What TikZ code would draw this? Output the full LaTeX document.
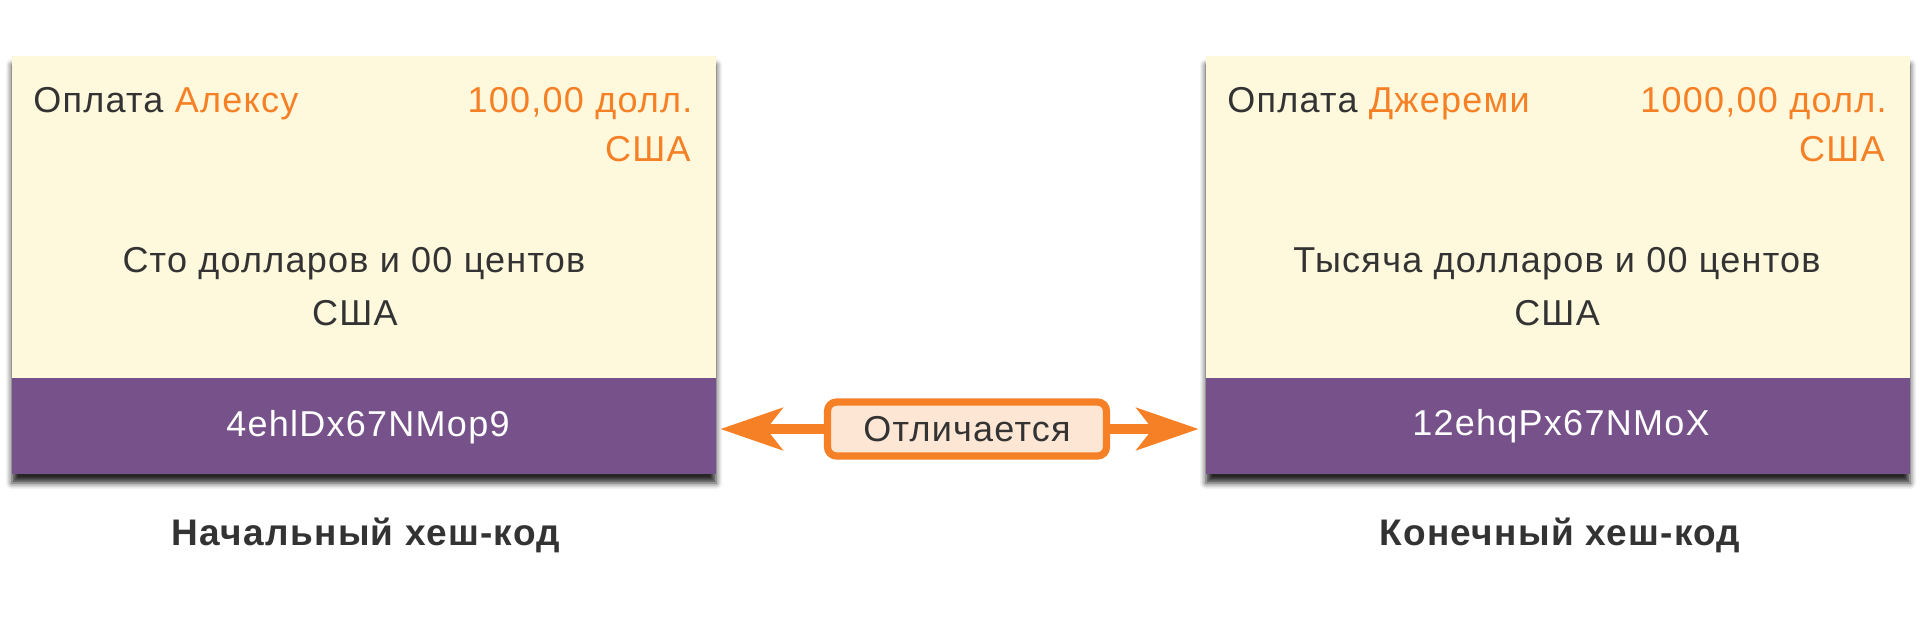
\documentclass[tikz,border=0pt]{standalone}
\usepackage{fontspec}
\setmainfont{Liberation Sans}[LetterSpace=3.5]
\usetikzlibrary{arrows.meta,shadows.blur}
\definecolor{cream}{HTML}{FEF8DC}
\definecolor{hashpurple}{HTML}{76518A}
\definecolor{accent}{HTML}{F58025}
\definecolor{peach}{HTML}{FDE6D4}
\definecolor{ink}{HTML}{333333}
\begin{document}
\begin{tikzpicture}[x=0.5pt,y=-0.5pt,
  card/.style={fill=cream, draw=none, minimum width=352pt, minimum height=209pt, inner sep=0pt,
    blur shadow={shadow xshift=0pt, shadow yshift=-4.5pt, shadow blur radius=3pt, shadow opacity=85}},
  band/.style={fill=hashpurple, draw=none, minimum width=352pt, minimum height=48pt, inner sep=0pt},
  txt/.style={font=\fontsize{18pt}{22pt}\selectfont, text=ink, inner sep=0pt},
  otxt/.style={txt, text=accent},
  htxt/.style={txt, text=white},
  captxt/.style={font=\fontsize{18.5pt}{22pt}\selectfont\bfseries, text=ink, inner sep=0pt},
  diffbox/.style={draw=accent, line width=3.6pt, fill=peach, rounded corners=4.5pt,
    minimum width=139.5pt, minimum height=27pt, inner sep=0pt, font=\fontsize{18pt}{22pt}\selectfont, text=ink},
  arr/.style={draw=accent, line width=5pt, -{Stealth[length=31pt, width=21pt, inset=8pt]}}
]
\useasboundingbox (0,0) rectangle (1920,629);

% left card
\node[card] (A) at (364,265) {};
\node[band] (Ah) at (364,426) {};
\node[htxt, anchor=base] (Ahash) at (368,436) {4ehlDx67NMop9};
\node[txt, anchor=base west] (Apay) at (33,112) {Оплата \textcolor{accent}{Алексу}};
\node[otxt, anchor=base east] (Aamt) at (693,112) {100,00 долл.};
\node[otxt, anchor=base east] (Ausa) at (691,161) {США};
\node[txt, anchor=base] (Awords) at (354,272) {Сто долларов и 00 центов};
\node[txt, anchor=base] (Awusa) at (355,325) {США};
\node[captxt, anchor=base] (Acap) at (366,545) {Начальный хеш-код};

% right card
\node[card] (B) at (1558,265) {};
\node[band] (Bh) at (1558,426) {};
\node[htxt, anchor=base] (Bhash) at (1561,435) {12ehqPx67NMoX};
\node[txt, anchor=base west] (Bpay) at (1227,112) {Оплата \textcolor{accent}{Джереми}};
\node[otxt, anchor=base east] (Bamt) at (1887,112) {1000,00 долл.};
\node[otxt, anchor=base east] (Busa) at (1885,161) {США};
\node[txt, anchor=base] (Bwords) at (1557,272) {Тысяча долларов и 00 центов};
\node[txt, anchor=base] (Bwusa) at (1557,325) {США};
\node[captxt, anchor=base] (Bcap) at (1560,545) {Конечный хеш-код};

% difference marker
\node[diffbox] (D) at (967,429) {Отличается};
\draw[arr, shorten >=2pt] (D.west) -- (Ah.east |- D.west);
\draw[arr, shorten >=3.5pt] (D.east) -- (Bh.west |- D.east);
\end{tikzpicture}
\end{document}
